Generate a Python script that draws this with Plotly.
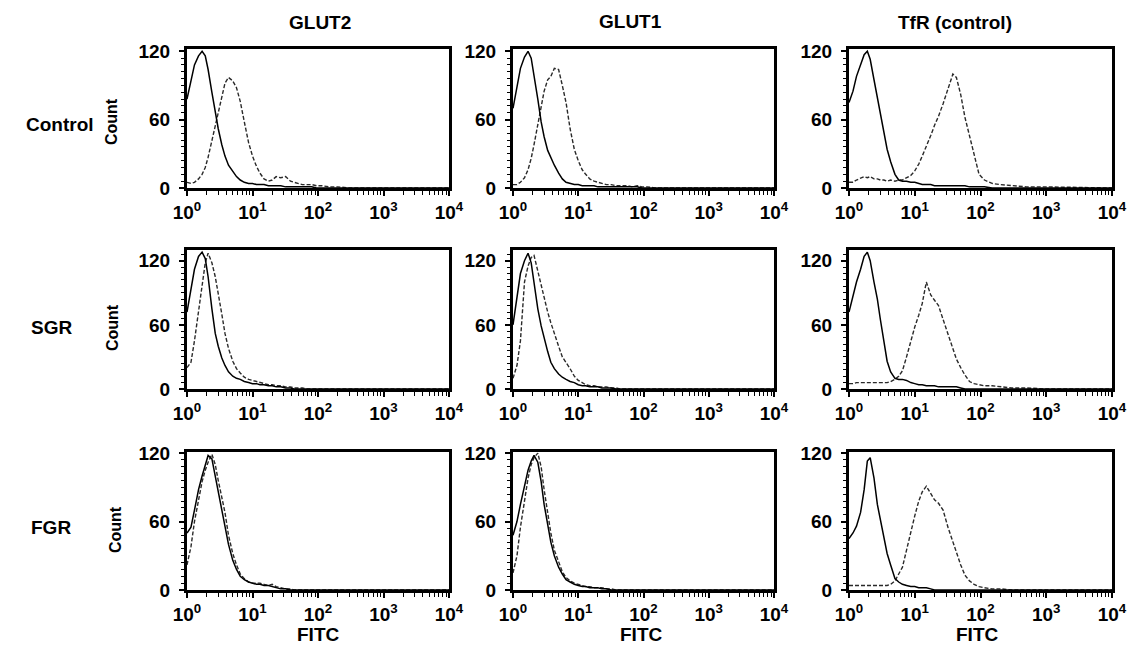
import plotly.graph_objects as go

# ---------------- data ----------------
FITC_X = [1, 1.15, 1.3, 1.5, 1.7, 1.9, 2.1, 2.4, 2.7, 3, 3.4, 3.8, 4.3, 5, 5.7, 6.5, 7.5, 8.7,
          10, 11.5, 13, 15, 17.5, 20, 23, 27, 32, 38, 43, 50, 58, 68, 80, 95, 115, 150, 200,
          300, 500, 1000, 10000]

GLUT2_CTRL_ISO = [78, 95, 108, 116, 120, 116, 104, 84, 65, 52, 38, 28, 20, 14, 10, 7, 5, 4, 4, 3, 3, 3, 2, 2, 2, 2, 1, 1, 1, 1, 1, 1, 1, 0, 0, 0, 0, 0, 0, 0, 0]
GLUT2_CTRL_AB = [5, 4, 5, 8, 12, 18, 27, 42, 55, 67, 80, 92, 97, 94, 88, 76, 58, 40, 28, 19, 13, 8, 6, 7, 10, 9, 10, 6, 5, 4, 3, 3, 3, 2, 2, 1, 1, 0, 0, 0, 0]
GLUT1_CTRL_ISO = [70, 90, 105, 115, 120, 114, 100, 78, 58, 45, 33, 26, 20, 13, 8, 5, 4, 3, 3, 2, 2, 2, 2, 1, 1, 1, 1, 1, 1, 1, 1, 1, 1, 0, 0, 0, 0, 0, 0, 0, 0]
GLUT1_CTRL_AB = [3, 3, 5, 9, 16, 26, 38, 55, 72, 85, 95, 98, 105, 104, 90, 75, 52, 34, 24, 16, 12, 8, 6, 5, 4, 3, 3, 2, 2, 2, 2, 1, 2, 1, 1, 0, 0, 0, 0, 0, 0]
TFR_CTRL_ISO = [75, 85, 98, 108, 117, 120, 113, 95, 80, 66, 48, 34, 23, 12, 7, 6, 6, 5, 5, 4, 3, 3, 3, 2, 2, 2, 2, 2, 2, 2, 2, 1, 1, 1, 1, 0, 0, 0, 0, 0, 0]
TFR_CTRL_AB = [5, 5, 7, 9, 10, 9, 10, 8, 8, 7, 7, 6, 7, 6, 7, 7, 9, 11, 15, 21, 28, 36, 46, 55, 63, 74, 88, 100, 97, 82, 62, 45, 28, 12, 7, 4, 3, 2, 1, 1, 0]

GLUT2_SGR_ISO = [72, 95, 112, 124, 128, 122, 105, 75, 52, 40, 29, 22, 16, 12, 10, 9, 7, 6, 5, 5, 4, 4, 3, 3, 2, 2, 1, 1, 0, 0, 0, 0, 0, 0, 0, 0, 0, 0, 0, 0, 0]
GLUT2_SGR_AB = [20, 25, 45, 72, 95, 118, 127, 118, 105, 90, 70, 52, 38, 26, 19, 15, 11, 9, 8, 7, 6, 5, 4, 4, 3, 3, 2, 2, 1, 1, 1, 0, 0, 0, 0, 0, 0, 0, 0, 0, 0]
GLUT1_SGR_ISO = [60, 88, 108, 120, 127, 118, 100, 75, 59, 47, 35, 25, 19, 14, 11, 9, 7, 6, 4, 3, 3, 2, 2, 2, 1, 1, 1, 0, 0, 0, 0, 0, 0, 0, 0, 0, 0, 0, 0, 0, 0]
GLUT1_SGR_AB = [10, 22, 45, 100, 115, 123, 125, 110, 96, 86, 72, 62, 53, 40, 30, 25, 19, 12, 8, 6, 4, 3, 3, 2, 2, 2, 1, 1, 0, 0, 0, 0, 0, 0, 0, 0, 0, 0, 0, 0, 0]
TFR_SGR_ISO = [72, 88, 100, 112, 124, 128, 120, 100, 84, 65, 42, 26, 16, 10, 9, 9, 8, 6, 5, 4, 4, 3, 3, 3, 2, 2, 2, 2, 2, 1, 0, 0, 0, 0, 0, 0, 0, 0, 0, 0, 0]
TFR_SGR_AB = [5, 5, 6, 6, 6, 6, 6, 6, 6, 6, 6, 6, 7, 9, 12, 17, 30, 45, 58, 69, 80, 100, 88, 83, 78, 65, 52, 38, 28, 20, 13, 7, 5, 4, 3, 3, 2, 1, 1, 0, 0]

GLUT2_FGR_ISO = [50, 55, 70, 88, 100, 110, 118, 115, 100, 85, 71, 55, 40, 26, 18, 12, 9, 7, 6, 5, 5, 4, 4, 3, 2, 1, 1, 0, 0, 0, 0, 0, 0, 0, 0, 0, 0, 0, 0, 0, 0]
GLUT2_FGR_AB = [22, 38, 60, 78, 95, 105, 112, 119, 110, 96, 80, 68, 48, 32, 22, 14, 10, 7, 6, 6, 6, 5, 4, 5, 3, 2, 1, 1, 0, 0, 0, 0, 0, 0, 0, 0, 0, 0, 0, 0, 0]
GLUT1_FGR_ISO = [48, 60, 75, 92, 105, 113, 118, 112, 95, 75, 58, 42, 30, 20, 14, 9, 7, 5, 4, 3, 3, 2, 2, 2, 1, 1, 0, 0, 0, 0, 0, 0, 0, 0, 0, 0, 0, 0, 0, 0, 0]
GLUT1_FGR_AB = [15, 30, 55, 80, 98, 110, 116, 120, 108, 88, 68, 50, 35, 24, 16, 11, 8, 6, 5, 4, 3, 3, 2, 2, 2, 1, 1, 0, 0, 0, 0, 0, 0, 0, 0, 0, 0, 0, 0, 0, 0]
TFR_FGR_ISO = [45, 50, 56, 68, 88, 113, 116, 98, 75, 62, 45, 32, 22, 10, 7, 5, 4, 3, 3, 2, 2, 2, 1, 0, 0, 0, 0, 0, 0, 0, 0, 0, 0, 0, 0, 0, 0, 0, 0, 0, 0]
TFR_FGR_AB = [4, 4, 4, 4, 4, 4, 4, 4, 4, 4, 4, 4, 5, 8, 14, 20, 35, 52, 65, 78, 86, 91, 84, 79, 76, 70, 55, 42, 32, 22, 13, 8, 5, 3, 2, 1, 1, 0, 0, 0, 0]

COL_LABELS = ["GLUT2", "GLUT1", "TfR (control)"]
ROW_LABELS = ["Control", "SGR", "FGR"]
Y_TICKS = [0, 60, 120]
X_TICKS = [1, 10, 100, 1000, 10000]
X_TICKTEXT = ["10<sup>0</sup>", "10<sup>1</sup>", "10<sup>2</sup>", "10<sup>3</sup>", "10<sup>4</sup>"]
X_TITLE = "FITC"
Y_TITLE = "Count"

DATA = [
    [(GLUT2_CTRL_ISO, GLUT2_CTRL_AB), (GLUT1_CTRL_ISO, GLUT1_CTRL_AB), (TFR_CTRL_ISO, TFR_CTRL_AB)],
    [(GLUT2_SGR_ISO, GLUT2_SGR_AB), (GLUT1_SGR_ISO, GLUT1_SGR_AB), (TFR_SGR_ISO, TFR_SGR_AB)],
    [(GLUT2_FGR_ISO, GLUT2_FGR_AB), (GLUT1_FGR_ISO, GLUT1_FGR_AB), (TFR_FGR_ISO, TFR_FGR_AB)],
]

# ---------------- layout ----------------
# the page body adds an 8px margin, so the figure is 8px smaller and positions are shifted
OFF = 8
W, H = 1136 - OFF, 646 - OFF


def px(x):
    return (x - OFF) / W


def py(y):
    return 1 - (y - OFF) / H


COL_PX = [(187, 449), (513, 774), (849, 1112)]
ROW_PX = [(49, 188), (250, 389), (452, 590)]
ROW_YMAX = [122, 130, 121]
FONT = "Liberation Sans, Arial, Helvetica, sans-serif"
TICKFONT = dict(family=FONT, size=19, color="black", weight="bold")

fig = go.Figure()
layout = dict(
    width=W, height=H, margin=dict(l=0, r=0, t=0, b=0, autoexpand=False),
    paper_bgcolor="white", plot_bgcolor="white", showlegend=False,
)

for r in range(3):
    for c in range(3):
        i = r * 3 + c + 1
        xa = "x" if i == 1 else f"x{i}"
        ya = "y" if i == 1 else f"y{i}"
        iso, ab = DATA[r][c]
        fig.add_trace(go.Scatter(x=FITC_X, y=ab, xaxis=xa, yaxis=ya, mode="lines",
                                 line=dict(color="#2a2a2a", width=1.4, dash="4px,2px"),
                                 hoverinfo="skip"))
        fig.add_trace(go.Scatter(x=FITC_X, y=iso, xaxis=xa, yaxis=ya, mode="lines",
                                 line=dict(color="black", width=1.5),
                                 hoverinfo="skip"))
        x0, x1 = COL_PX[c]
        y0, y1 = ROW_PX[r]
        layout["xaxis" if i == 1 else f"xaxis{i}"] = dict(
            domain=[px(x0), px(x1)], anchor=ya, type="log", range=[0, 4],
            tickmode="array", tickvals=X_TICKS, ticktext=X_TICKTEXT,
            ticks="outside", ticklen=5, tickwidth=1.5, tickcolor="black",
            automargin=False,
            showline=True, linewidth=3, linecolor="black", mirror=True,
            showgrid=False, zeroline=False, tickfont=TICKFONT,
            minor=dict(ticks="outside", ticklen=4, tickwidth=1, tickcolor="black",
                       dtick="D1", showgrid=False),
            fixedrange=True,
        )
        layout["yaxis" if i == 1 else f"yaxis{i}"] = dict(
            domain=[py(y1), py(y0)], anchor=xa, range=[0, ROW_YMAX[r]],
            tickmode="array", tickvals=Y_TICKS,
            ticks="outside", ticklen=5, tickwidth=1.5, tickcolor="black",
            ticklabelstandoff=5, automargin=False,
            showline=True, linewidth=3, linecolor="black", mirror=True,
            showgrid=False, zeroline=False, tickfont=TICKFONT,
            minor=dict(ticks="outside", ticklen=3, tickwidth=1, tickcolor="black",
                       tickmode="linear", tick0=0, dtick=6, showgrid=False),
            fixedrange=True,
        )

ann = []
TITLE_POS = [(320, 22), (630, 21), (955, 23)]
for (x, y), t in zip(TITLE_POS, COL_LABELS):
    ann.append(dict(x=px(x), y=py(y), xref="paper", yref="paper", text=t, showarrow=False,
                    font=dict(family=FONT, size=19, color="black", weight="bold"),
                    xanchor="center", yanchor="middle"))
ROW_POS = [(60, 124), (51, 327), (51, 527)]
for (x, y), t in zip(ROW_POS, ROW_LABELS):
    ann.append(dict(x=px(x), y=py(y), xref="paper", yref="paper", text=t, showarrow=False,
                    font=dict(family=FONT, size=19, color="black", weight="bold"),
                    xanchor="center", yanchor="middle"))
COUNT_POS = [(112, 122), (113, 328), (115, 530)]
for (x, y) in COUNT_POS:
    ann.append(dict(x=px(x), y=py(y), xref="paper", yref="paper", text=Y_TITLE, showarrow=False,
                    textangle=-90,
                    font=dict(family=FONT, size=16, color="black", weight="bold"),
                    xanchor="center", yanchor="middle"))
FITC_POS = [(318, 634), (641, 634), (977, 634)]
for (x, y) in FITC_POS:
    ann.append(dict(x=px(x), y=py(y), xref="paper", yref="paper", text=X_TITLE, showarrow=False,
                    font=dict(family=FONT, size=19, color="black", weight="bold"),
                    xanchor="center", yanchor="middle"))
layout["annotations"] = ann

fig.update_layout(**layout)
fig.write_html("out.html")
